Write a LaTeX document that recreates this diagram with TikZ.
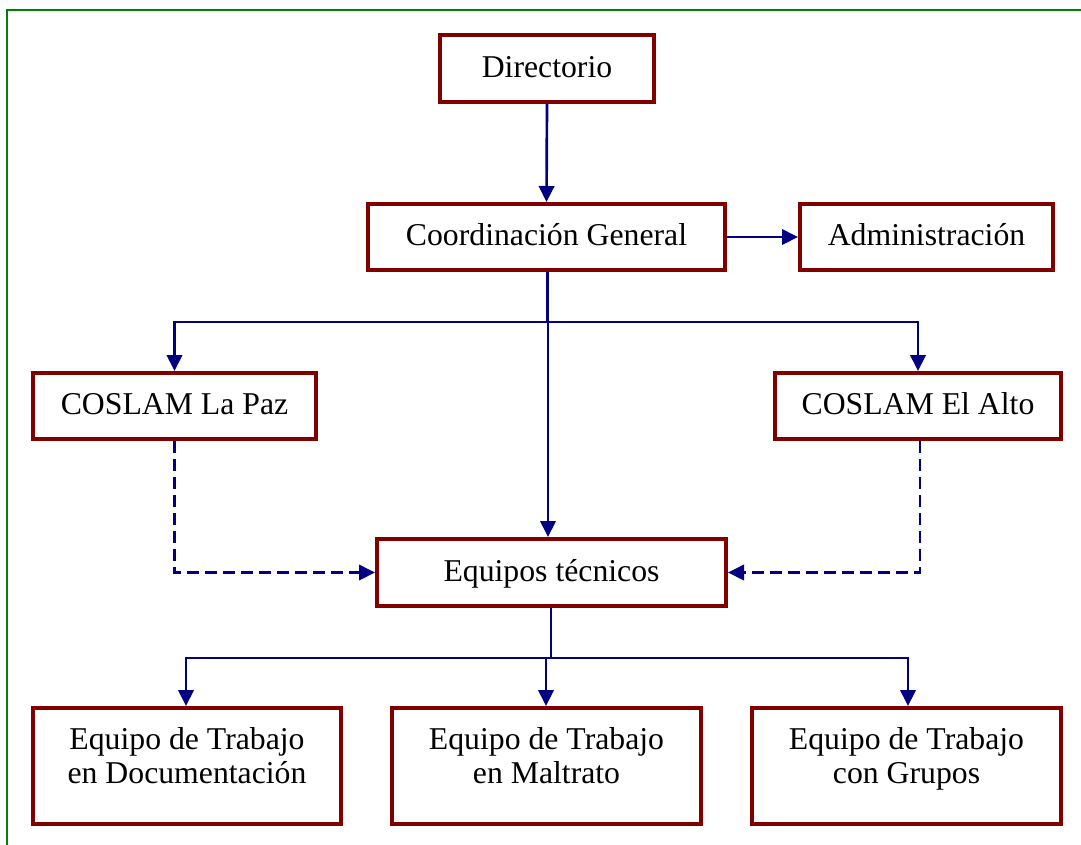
\documentclass[tikz,border=0pt]{standalone}
\usepackage{fontspec}
\setmainfont{Liberation Serif}
\usetikzlibrary{arrows.meta}
\definecolor{boxred}{RGB}{128,0,0}
\definecolor{arrblue}{RGB}{0,0,128}
\definecolor{framegreen}{RGB}{0,128,0}
\tikzset{
  orgbox/.style={draw=boxred, line width=3pt, rectangle, inner sep=0pt,
    font=\fontsize{23.8pt}{27pt}\selectfont, text height=18.5pt, text depth=5.5pt},
  twoline/.style={font=\fontsize{23.8pt}{27pt}\selectfont, align=center, inner sep=0pt},
  conn/.style={draw=arrblue, line width=2pt},
  arr/.style={conn, -{Triangle[width=11.5pt,length=12pt]}},
  darr/.style={arr, dash pattern=on 9pt off 4.5pt},
}
\begin{document}
\begin{tikzpicture}[x=0.75pt,y=-0.75pt]
\useasboundingbox (0,0) rectangle (1081,844);
% frame
\draw[framegreen, line width=1.5pt] (6.5,850) -- (6.5,10) -- (1090,10);
% boxes
\node[orgbox, minimum width=214*0.75pt, minimum height=67*0.75pt] (dir) at (547,68.5) {Directorio};
\node[orgbox, minimum width=357*0.75pt, minimum height=66*0.75pt] (coord) at (546.5,237) {Coordinación General};
\node[orgbox, minimum width=253*0.75pt, minimum height=66*0.75pt] (adm) at (926.5,237) {Administración};
\node[orgbox, minimum width=283*0.75pt, minimum height=66*0.75pt] (lpz) at (174.5,406) {COSLAM La Paz};
\node[orgbox, minimum width=286*0.75pt, minimum height=66*0.75pt] (alto) at (918,406) {COSLAM El Alto};
\node[orgbox, minimum width=349*0.75pt, minimum height=67*0.75pt] (eq) at (551.5,572.5) {Equipos técnicos};
\node[orgbox, minimum width=308*0.75pt, minimum height=116*0.75pt] (doc) at (187,766) {};
\node[orgbox, minimum width=309*0.75pt, minimum height=116*0.75pt] (mal) at (546.5,766) {};
\node[orgbox, minimum width=309*0.75pt, minimum height=116*0.75pt] (grp) at (906.5,766) {};
\node[twoline, anchor=base] (doct) at (187,749) {Equipo de Trabajo};
\node[twoline, anchor=base] (docb) at (187,783) {en Documentación};
\node[twoline, anchor=base] (malt) at (546.5,749) {Equipo de Trabajo};
\node[twoline, anchor=base] (malb) at (546.5,783) {en Maltrato};
\node[twoline, anchor=base] (grpt) at (906.5,749) {Equipo de Trabajo};
\node[twoline, anchor=base] (grpb) at (906.5,783) {con Grupos};
% coordinates
\coordinate (j1) at (547,322);
\coordinate (j2) at (551,658);
% connectors
\draw[arr] (dir.south) -- (coord.north);
\draw[arr] (coord.east) -- (adm.west);
\draw[conn] (coord.south -| j1) -- (j1);
\draw[arr] (j1) -| (lpz.north);
\draw[arr] (j1) -| (alto.north);
\draw[arr] (coord.south -| 548,0) -- (eq.north -| 548,0);
\draw[darr] (lpz.south) |- (eq.west);
\draw[darr] (alto.south -| 920,0) |- (eq.east);
\draw[conn] (eq.south -| j2) -- (j2);
\draw[arr] (j2) -| (doc.north -| 186,0);
\draw[arr] (j2 -| 546,0) -- (mal.north -| 546,0);
\draw[arr] (j2) -| (grp.north -| 908,0);
\end{tikzpicture}
\end{document}
